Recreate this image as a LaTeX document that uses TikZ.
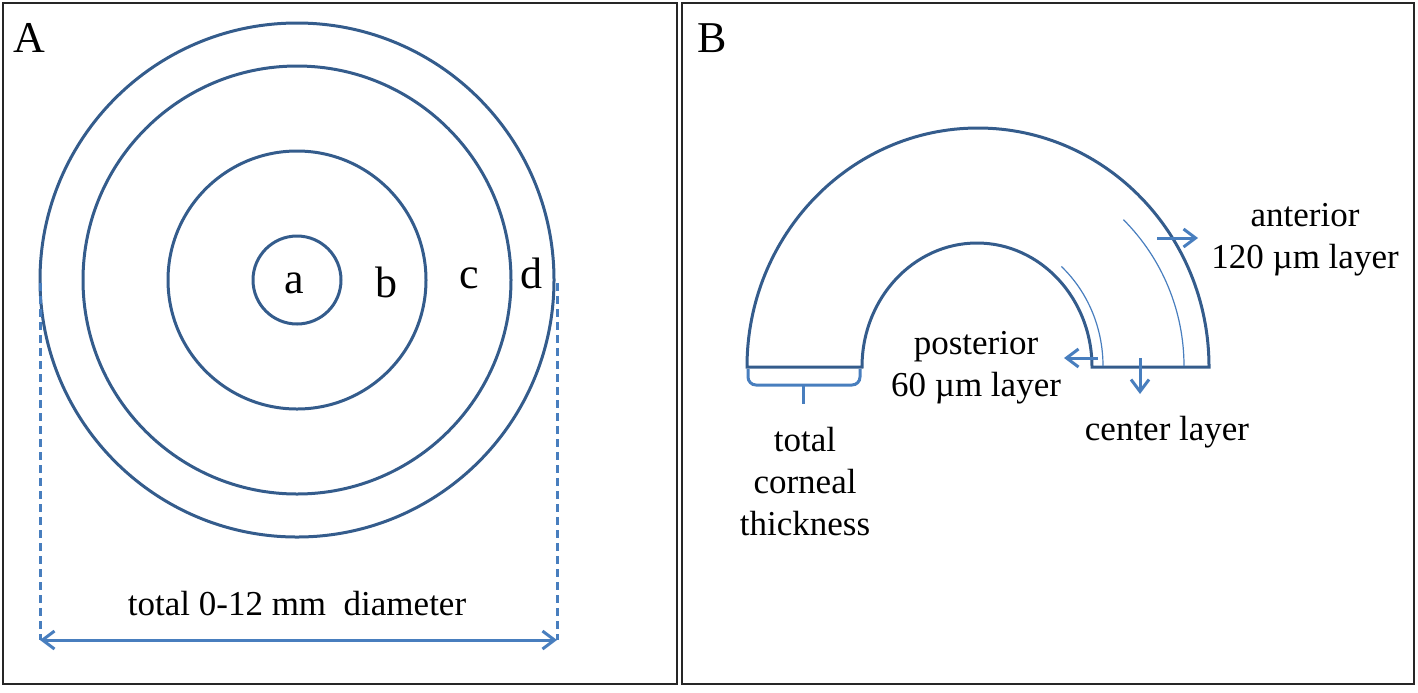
\documentclass[tikz,border=0pt]{standalone}
\usepackage{fontspec}
\setmainfont{Liberation Serif}
\usetikzlibrary{arrows.meta}
\definecolor{ringblue}{RGB}{52,92,140}
\definecolor{lineblue}{RGB}{72,126,190}
\newcommand{\txtsize}{\fontsize{17.5}{21}\selectfont}
\newcommand{\lettersize}{\fontsize{22}{26}\selectfont}

\begin{document}
\begin{tikzpicture}[x=0.5pt,y=-0.5pt,
  frame/.style={draw=black!85, line width=1pt},
  ring/.style={draw=ringblue, line width=1.5pt},
  thinarc/.style={draw=lineblue, line width=0.6pt},
  barb/.tip={Straight Barb[length=6pt,width=9pt,line width=1.5pt]},
  pointer/.style={draw=lineblue, line width=1.5pt, -barb},
  lbl/.style={font=\txtsize, align=center, inner sep=0pt},
  letter/.style={font=\lettersize, inner sep=0pt}]

  \useasboundingbox (0,0) rectangle (1418,692);

  %% panels
  \draw[frame] (3,3) rectangle (677,684);
  \draw[frame] (682,3) rectangle (1414,684);
  \node[letter, anchor=base west] (lblA) at (13,52) {A};
  \node[letter, anchor=base west] (lblB) at (697,52) {B};

  %% A: zones
  \coordinate (ctr) at (297,280);
  \draw[ring] (ctr) circle[radius=257];
  \draw[ring] (ctr) circle[radius=214];
  \draw[ring] (ctr) circle[radius=129];
  \draw[ring] (ctr) circle[radius=44];
  \node[letter, anchor=base] (za) at (294,293) {a};
  \node[letter, anchor=base] (zb) at (386,297) {b};
  \node[letter, anchor=base] (zc) at (469,288) {c};
  \node[letter, anchor=base] (zd) at (531,288) {d};

  \coordinate (tl) at (40,283);
  \coordinate (tr) at (557,283);
  \coordinate (bl) at (40,640);
  \coordinate (br) at (557,640);
  \draw[draw=lineblue, line width=1.5pt, dash pattern=on 4pt off 2.5pt] (tl) -- (bl);
  \draw[draw=lineblue, line width=1.5pt, dash pattern=on 4pt off 2.5pt] (tr) -- (br);
  \draw[pointer, barb-barb] (bl) -- (br);
  \node[lbl, anchor=base] (diam) at (297,615) {total 0-12 mm~ diameter};

  %% B: corneal cut
  \draw[ring] (747,367) arc[start angle=180, end angle=360, x radius=231, y radius=239]
    -- (1092,367) arc[start angle=360, end angle=180, x radius=115, y radius=124] -- cycle;
  \draw[thinarc] (1103,366) arc[start angle=360, end angle=312, x radius=126, y radius=134];
  \draw[thinarc] (1184,366) arc[start angle=360, end angle=315, x radius=207, y radius=207];

  \draw[draw=lineblue, line width=1.5pt, rounded corners=4pt] (748,369) |- (860,385) -- (860,369);
  \draw[draw=lineblue, line width=1.5pt] (803,385) -- (803,404);

  \coordinate (ant0) at (1157,238);
  \coordinate (ant1) at (1198,238);
  \coordinate (post0) at (1098,358);
  \coordinate (post1) at (1064,358);
  \coordinate (cen0) at (1140,358);
  \coordinate (cen1) at (1140,394);
  \draw[pointer] (ant0) -- (ant1);   %% anterior
  \draw[pointer] (post0) -- (post1); %% posterior
  \draw[pointer] (cen0) -- (cen1);   %% center

  \node[lbl] (ant) at (1305,240) {anterior\\120 µm layer};
  \node[lbl] (post) at (976,368) {posterior\\60 µm layer};
  \node[lbl, anchor=base] (cent) at (1167,440) {center layer};
  \node[lbl] (tct) at (805,482) {total\\corneal\\thickness};
\end{tikzpicture}
\end{document}
